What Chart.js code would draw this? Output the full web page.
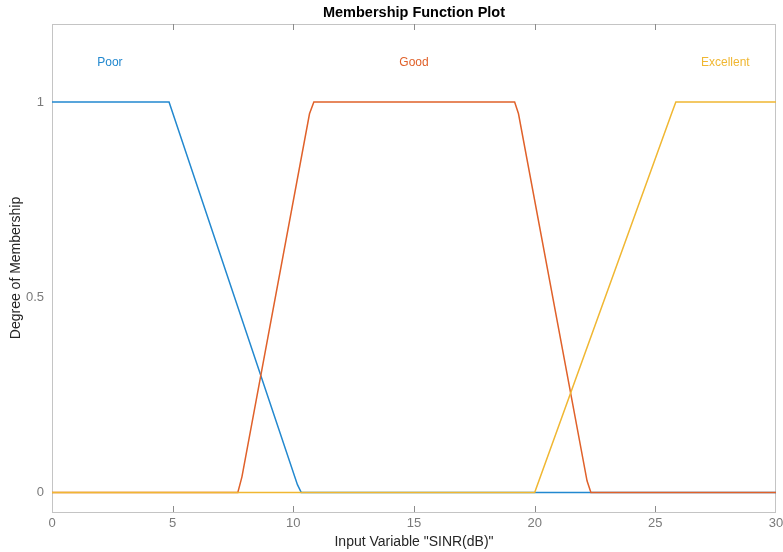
<!DOCTYPE html>
<html>
<head>
<meta charset="utf-8">
<script src="https://cdn.jsdelivr.net/npm/chart.js@4.4.0/dist/chart.umd.min.js"></script>
<style>
  html, body { margin: 0; padding: 0; background: #fff; }
  #wrap { width: 783px; height: 552px; }
</style>
</head>
<body>
<div id="wrap"><canvas id="myChart"></canvas></div>
<script>
// membership function breakpoints
var poorX = [0, 4.85, 10.17, 10.33, 30];
var poorY = [1, 1, 0.02, 0, 0];
var goodX = [0, 7.7, 7.87, 10.67, 10.85, 19.17, 19.33, 22.17, 22.33, 30];
var goodY = [0, 0, 0.04, 0.97, 1, 1, 0.97, 0.03, 0, 0];
var excX = [0, 20, 25.67, 25.85, 30];
var excY = [0, 0, 0.97, 1, 1];

var mfNames = ["Poor", "Good", "Excellent"];
var mfLabelX = [2.4, 15, 27.9];
var mfLabelY = [1.1, 1.1, 1.1];
var mfColors = ["#2288cf", "#e0612a", "#f0b732"];

var xTicks = [0, 5, 10, 15, 20, 25, 30];
var yTicks = [0, 0.5, 1];

function toPts(xs, ys) {
    var out = [];
    for (var i = 0; i < xs.length; i++) {
        out.push({x: xs[i], y: ys[i]});
    }
    return out;
}

var FONT = "'Liberation Sans', Arial, Helvetica, sans-serif";

// box, inside ticks, curve labels, titles
var decor = {
    id: "decor",
    beforeDatasetsDraw: function (chart) {
        var ctx = chart.ctx, a = chart.chartArea, xs = chart.scales.x;
        ctx.save();
        ctx.strokeStyle = "#c4c4c4";
        ctx.lineWidth = 1;
        ctx.strokeRect(a.left + 0.5, a.top + 0.5, a.right - a.left - 1, a.bottom - a.top);
        ctx.strokeStyle = "#8c8c8c";
        for (var i = 1; i < xTicks.length - 1; i++) {
            var px = Math.round(xs.getPixelForValue(xTicks[i])) + 0.5;
            ctx.beginPath();
            ctx.moveTo(px, a.bottom);
            ctx.lineTo(px, a.bottom - 6);
            ctx.moveTo(px, a.top);
            ctx.lineTo(px, a.top + 6);
            ctx.stroke();
        }
        ctx.restore();
    },
    afterDatasetsDraw: function (chart) {
        var ctx = chart.ctx, a = chart.chartArea;
        var xs = chart.scales.x, ys = chart.scales.y;
        ctx.save();
        ctx.textAlign = "center";
        ctx.textBaseline = "middle";
        ctx.font = "12px " + FONT;
        for (var i = 0; i < mfNames.length; i++) {
            ctx.fillStyle = mfColors[i];
            ctx.fillText(mfNames[i], xs.getPixelForValue(mfLabelX[i]), ys.getPixelForValue(mfLabelY[i]));
        }
        var cx = (a.left + a.right) / 2;
        ctx.fillStyle = "#000";
        ctx.font = "bold 14.5px " + FONT;
        ctx.fillText("Membership Function Plot", cx, 13);
        ctx.fillStyle = "#262626";
        ctx.font = "14px " + FONT;
        ctx.fillText('Input Variable "SINR(dB)"', cx, 542);
        ctx.translate(16, (a.top + a.bottom) / 2);
        ctx.rotate(-Math.PI / 2);
        ctx.fillText("Degree of Membership", 0, 0);
        ctx.restore();
    }
};

var ctx = document.getElementById("myChart").getContext("2d");
var myChart = new Chart(ctx, {
    type: "line",
    data: {
        datasets: [
            {label: "Poor", data: toPts(poorX, poorY), borderColor: mfColors[0], order: 3},
            {label: "Good", data: toPts(goodX, goodY), borderColor: mfColors[1], order: 2},
            {label: "Excellent", data: toPts(excX, excY), borderColor: mfColors[2], order: 1}
        ]
    },
    options: {
        responsive: true,
        maintainAspectRatio: false,
        animation: false,
        layout: {padding: {top: 24, right: 7, bottom: 0, left: 0}},
        elements: {
            point: {radius: 0},
            line: {borderWidth: 1.5, tension: 0}
        },
        plugins: {
            legend: {display: false},
            tooltip: {enabled: false}
        },
        scales: {
            x: {
                type: "linear",
                min: 0,
                max: 30,
                afterFit: function (s) {
                    s.height = 40;
                    s.paddingLeft = 0;
                    s.paddingRight = 0;
                },
                afterBuildTicks: function (s) {
                    s.ticks = xTicks.map(function (v) { return {value: v}; });
                },
                grid: {display: false, drawTicks: false},
                border: {display: false},
                ticks: {
                    padding: 4,
                    color: "#7a7a7a",
                    font: {family: FONT, size: 13},
                    maxRotation: 0
                }
            },
            y: {
                type: "linear",
                min: -0.05,
                max: 1.2,
                afterFit: function (s) { s.width = 52; },
                afterBuildTicks: function (s) {
                    s.ticks = yTicks.map(function (v) { return {value: v}; });
                },
                grid: {display: false, drawTicks: false},
                border: {display: false},
                ticks: {
                    padding: 8,
                    color: "#7a7a7a",
                    font: {family: FONT, size: 13},
                    callback: function (v) { return String(v); }
                }
            }
        }
    },
    plugins: [decor]
});
</script>
</body>
</html>
